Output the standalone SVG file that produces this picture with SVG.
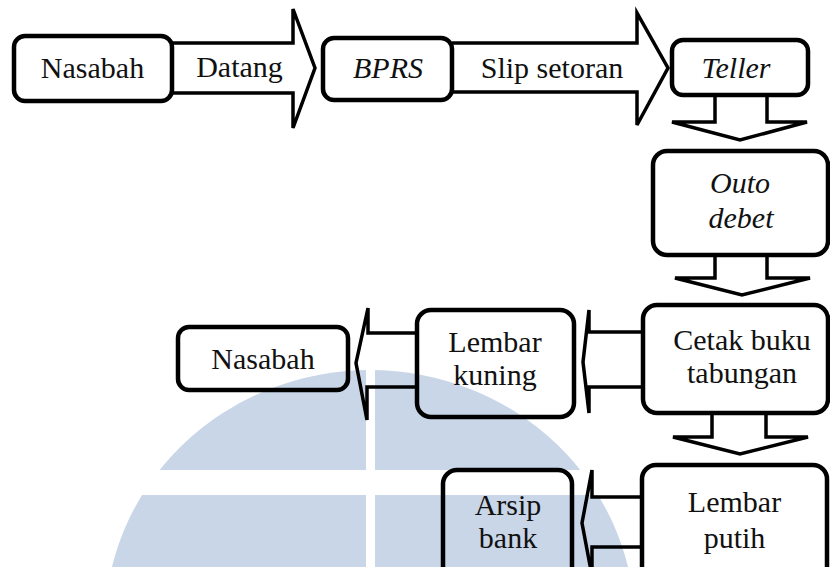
<svg xmlns="http://www.w3.org/2000/svg" width="830" height="567" viewBox="0 0 830 567">
<style>
.box{fill:none;stroke:#000;stroke-width:4.5}
.arr{fill:none;stroke:#000;stroke-width:3.5;stroke-linejoin:miter}
text{font-family:"Liberation Serif","Times New Roman",serif;font-size:30px;fill:#111;text-anchor:middle}
.it{font-style:italic}
.wm{fill:#c9d6e8}
</style>
<rect width="830" height="567" fill="#fff"/>
<g id="watermark">
<ellipse class="wm" cx="370" cy="625" rx="265" ry="255"/>
<rect x="90" y="470" width="560" height="25" fill="#fff"/>
<rect x="366" y="360" width="9" height="210" fill="#fff"/>
</g>
<g id="connectors">
<path class="arr" d="M172,43 H293 V9 L315,68 L293,128 V93 H172"/>
<path class="arr" d="M452,43 H637 V13 L668,68 L637,125 V92 H452"/>
<path class="arr" d="M715,95 V122 H672 L740,140 L807,122 H767 V95"/>
<path class="arr" d="M715,255 V278 H675 L742,295 L810,278 H767 V255"/>
<path class="arr" d="M712,413 V437 H673 L740,454 L808,437 H766 V413"/>
<path class="arr" d="M643,332 H589 V310 L583,362 L589,413 V387 H643"/>
<path class="arr" d="M417,333 H368 V308 L356,363 L367,420 V387 H417"/>
<path class="arr" d="M642,497 H592 V470 L582,523 L592,576 V547 H642"/>
</g>
<g id="n-nasabah1"><rect class="box" x="14" y="36" width="158" height="65" rx="11"/><text x="92.5" y="78">Nasabah</text></g>
<g id="l-datang"><text x="239.5" y="77">Datang</text></g>
<g id="n-bprs"><rect class="box" x="323" y="38" width="129" height="62" rx="11"/><text class="it" x="388" y="78">BPRS</text></g>
<g id="l-slip"><text x="552" y="78">Slip setoran</text></g>
<g id="n-teller"><rect class="box" x="672" y="40" width="136" height="55" rx="11"/><text class="it" x="736" y="78">Teller</text></g>
<g id="n-outo"><rect class="box" x="653" y="151" width="175" height="104" rx="14"/><text class="it" x="740" y="193">Outo</text><text class="it" x="741" y="228">debet</text></g>
<g id="n-cetak"><rect class="box" x="643" y="305" width="185" height="108" rx="14"/><text x="742" y="350">Cetak buku</text><text x="742" y="383">tabungan</text></g>
<g id="n-kuning"><rect class="box" x="417" y="310" width="157" height="107" rx="14"/><text x="495" y="352">Lembar</text><text x="495" y="385">kuning</text></g>
<g id="n-nasabah2"><rect class="box" x="178" y="327" width="170" height="63" rx="11"/><text x="263" y="369">Nasabah</text></g>
<g id="n-arsip"><rect class="box" x="443" y="470" width="129" height="115" rx="14"/><text x="508" y="515">Arsip</text><text x="508" y="548">bank</text></g>
<g id="n-putih"><rect class="box" x="642" y="465" width="185" height="120" rx="14"/><text x="734.5" y="512">Lembar</text><text x="734.5" y="548">putih</text></g>
</svg>
